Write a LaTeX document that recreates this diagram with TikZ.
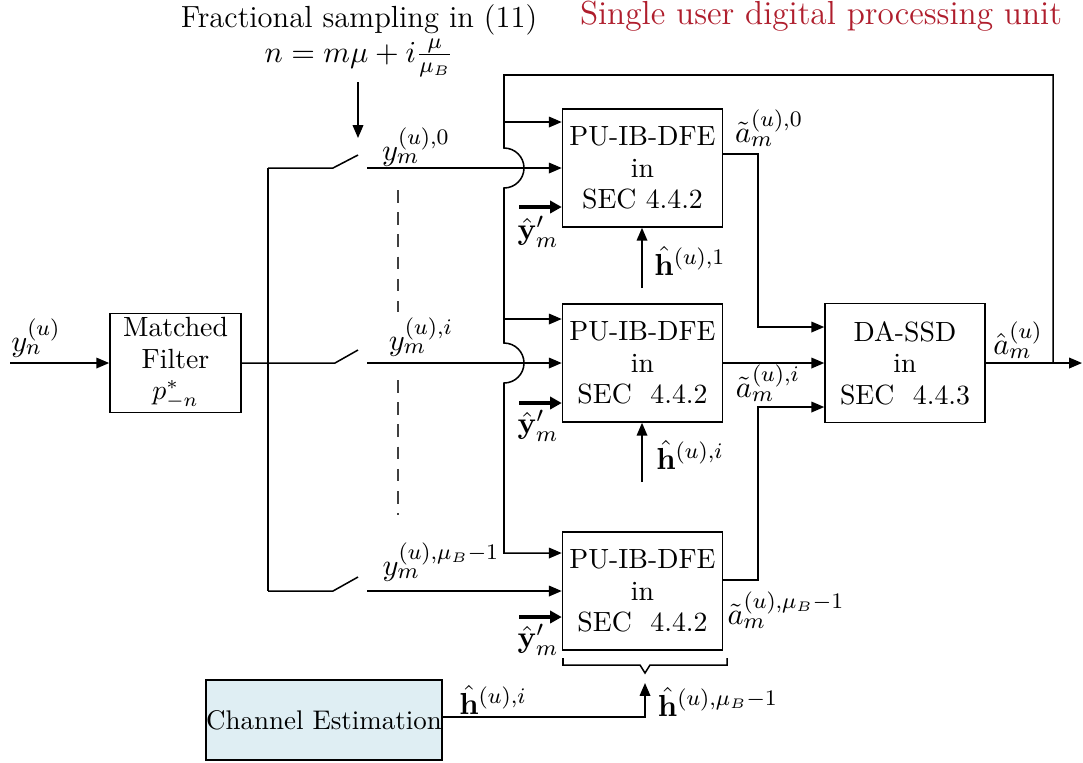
\documentclass[tikz,border=0pt]{standalone}
\usetikzlibrary{arrows.meta,calc}
\definecolor{ceblue}{RGB}{223,238,243}
\definecolor{titlered}{RGB}{175,30,45}
\begin{document}
\begin{tikzpicture}[x=0.36pt,y=-0.36pt, line width=0.55pt,
  box/.style={draw, line width=0.55pt, align=center, inner sep=0pt, font=\fontsize{10}{11.3}\selectfont},
  pubox/.style={box, minimum width=57.6pt, minimum height=42.5pt},
  arr/.style={-{Triangle[length=4.6pt,width=3.8pt]}},
  barr/.style={line width=1.5pt,-{Triangle[length=4.2pt,width=4.4pt]}},
  lbl/.style={inner sep=0pt, font=\fontsize{11}{13}\selectfont},
  dashline/.style={dash pattern=on 4.5pt off 3.5pt, line width=0.5pt, black!75}]
\useasboundingbox (0,0) rectangle (1083,762);

% titles
\node[lbl] (t1) at (359,20) {Fractional sampling in (11)};
\node[lbl] (t2) at (359,58) {$n=m\mu+i\frac{\mu}{\mu_B}$};
\node[lbl,text=titlered,font=\fontsize{12}{14}\selectfont] (t3) at (821,16) {Single user digital processing unit};

% blocks
\node[box, minimum width=47.2pt, minimum height=35.6pt] (mf) at (175.5,363) {Matched\\Filter\\$p^*_{-n}$};
\node[pubox] (pu1) at (642.5,168) {PU-IB-DFE\\in\\SEC 4.4.2};
\node[pubox] (pu2) at (642.5,363) {PU-IB-DFE\\in\\SEC\ \ 4.4.2};
\node[pubox] (pu3) at (642.5,591) {PU-IB-DFE\\in\\SEC\ \ 4.4.2};
\node[box, minimum width=57.6pt, minimum height=42.8pt] (ssd) at (905,363) {DA-SSD\\in\\SEC\ \ 4.4.3};
\node[box, fill=ceblue, minimum width=84.2pt, minimum height=28.8pt, font=\fontsize{9.7}{11}\selectfont] (ce) at (324,720) {Channel Estimation};

% coordinates
\coordinate (in) at (10,363);
\coordinate (bt) at (268,168);
\coordinate (bb) at (268,591);
\coordinate (s1a) at (333,168); \coordinate (s1b) at (358,155); \coordinate (s1c) at (367,168);
\coordinate (s2a) at (335,363); \coordinate (s2b) at (358,350); \coordinate (s2c) at (367,363);
\coordinate (s3a) at (333,591); \coordinate (s3b) at (358,577); \coordinate (s3c) at (367,591);
\coordinate (sa) at (358,82); \coordinate (sb) at (358,138);
\coordinate (out) at (1082,363);
\coordinate (tap) at (1053,363);
\coordinate (fr) at (1053,75);
\coordinate (fl) at (504,75);
\coordinate (j1) at (504,148);
\coordinate (j2) at (504,343);
\coordinate (j3) at (504,553);
\coordinate (b1) at (504,122);
\coordinate (b2) at (504,319);
\coordinate (ys1) at (519,207);
\coordinate (ys2) at (519,403);
\coordinate (ys3) at (519,617);
\coordinate (k1) at (758,154);
\coordinate (c1) at (758,327);
\coordinate (k3) at (758,580);
\coordinate (c3) at (758,407);
\coordinate (h1) at (642,288);
\coordinate (h2) at (642,482);
\coordinate (hc) at (645,717);
\coordinate (hct) at (645,683);

% input and matched filter
\draw[arr] (in) -- (mf.west);
\draw (bt) -- (bb);
\draw (mf.east) -- (s2a) -- (s2b);
\draw (bt) -- (s1a) -- (s1b);
\draw (bb) -- (s3a) -- (s3b);
\draw[arr] (sa) -- (sb);
\draw[dashline] (398,190) -- (398,312);
\draw[dashline] (398,380) -- (398,515);

% switch outputs to PU blocks
\draw[arr] (s1c) -- (s1c -| pu1.west);
\draw[arr] (s2c) -- (s2c -| pu2.west);
\draw[arr] (s3c) -- (s3c -| pu3.west);

% feedback bus with jumps
\draw[arr] (tap) -- (fr) -- (fl) -- (j1) arc(-90:90:20) -- (j2) arc(-90:90:20) -- (j3) -- (j3 -| pu3.west);
\draw[arr] (b1) -- (b1 -| pu1.west);
\draw[arr] (b2) -- (b2 -| pu2.west);

% y' inputs
\draw[barr] (ys1) -- (ys1 -| pu1.west);
\draw[barr] (ys2) -- (ys2 -| pu2.west);
\draw[barr] (ys3) -- (ys3 -| pu3.west);

% h inputs
\draw[arr] (h1) -- (h1 |- pu1.south);
\draw[arr] (h2) -- (h2 |- pu2.south);
\draw[arr] (ce.east |- hc) -- (hc) -- (hct);
\draw (563,658) -- (563,665) -- (640,665) -- (645,673) -- (650,665) -- (727,665) -- (727,658);

% PU outputs to DA-SSD
\draw[arr] (pu1.east |- k1) -- (k1) -- (c1) -- (c1 -| ssd.west);
\draw[arr] (pu2.east) -- (ssd.west);
\draw[arr] (pu3.east |- k3) -- (k3) -- (c3) -- (c3 -| ssd.west);
\draw[arr] (ssd.east) -- (out);

% labels
\node[lbl] (ly) at (36,338) {$y_n^{(u)}$};
\node[lbl] (ly0) at (416,147) {$y_m^{(u),0}$};
\node[lbl] (lyi) at (421,337) {$y_m^{(u),i}$};
\node[lbl] (lyb) at (441,562) {$y_m^{(u),\mu_B-1}$};
\node[lbl] (la0) at (769,128) {$\tilde{a}_m^{(u),0}$};
\node[lbl] (lai) at (768,383) {$\tilde{a}_m^{(u),i}$};
\node[lbl] (lab) at (786,610) {$\tilde{a}_m^{(u),\mu_B-1}$};
\node[lbl] (lah) at (1018,340) {$\hat{a}_m^{(u)}$};
\node[lbl] (lh1) at (690,261) {$\hat{\mathbf{h}}^{(u),1}$};
\node[lbl] (lhi) at (690,455) {$\hat{\mathbf{h}}^{(u),i}$};
\node[lbl] (lhb) at (718,702) {$\hat{\mathbf{h}}^{(u),\mu_B-1}$};
\node[lbl] (lhc) at (493,700) {$\hat{\mathbf{h}}^{(u),i}$};
\node[lbl] (lyp1) at (538,232) {$\hat{\mathbf{y}}'_m$};
\node[lbl] (lyp2) at (538,426) {$\hat{\mathbf{y}}'_m$};
\node[lbl] (lyp3) at (538,640) {$\hat{\mathbf{y}}'_m$};
\end{tikzpicture}
\end{document}
